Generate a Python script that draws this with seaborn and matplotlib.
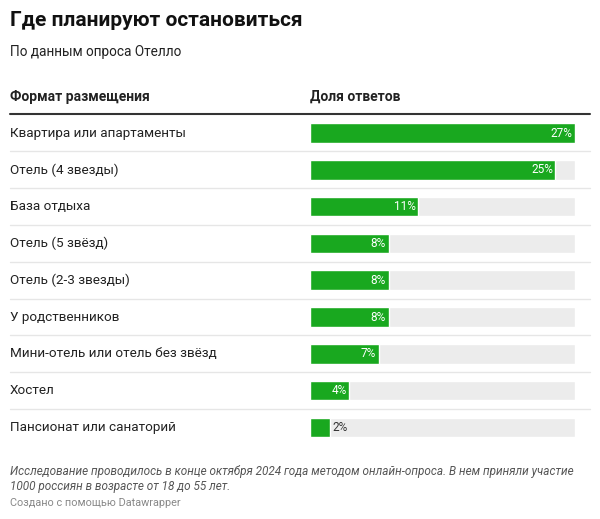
import matplotlib
matplotlib.use("Agg")
import matplotlib.pyplot as plt
import matplotlib.transforms as mtransforms
import seaborn as sns
import pandas as pd

categories = [
    "Квартира или апартаменты",
    "Отель (4 звезды)",
    "База отдыха",
    "Отель (5 звёзд)",
    "Отель (2-3 звезды)",
    "У родственников",
    "Мини-отель или отель без звёзд",
    "Хостел",
    "Пансионат или санаторий",
]
values = [27, 25, 11, 8, 8, 8, 7, 4, 2]
value_labels = ["27%", "25%", "11%", "8%", "8%", "8%", "7%", "4%", "2%"]

title = "Где планируют остановиться"
subtitle = "По данным опроса Отелло"
col1 = "Формат размещения"
col2 = "Доля ответов"
note = ("Исследование проводилось в конце октября 2024 года методом онлайн-опроса. В нем приняли участие\n"
        "1000 россиян в возрасте от 18 до 55 лет.")
credit = "Создано с помощью Datawrapper"

sns.set_theme(style="white")
plt.rcParams["font.family"] = ["Roboto", "DejaVu Sans"]

W, H = 600, 519
fig = plt.figure(figsize=(W / 100, H / 100), dpi=100)

def fx(px):
    return px / W

def fy(py):
    return 1 - py / H

# bar axes
top_px, bot_px = 114.6, 445.9
ax = fig.add_axes([fx(310), fy(bot_px), fx(265), (bot_px - top_px) / H])

vmax = max(values)
df = pd.DataFrame({"cat": categories, "val": values, "track": [vmax] * len(values)})

sns.barplot(data=df, y="cat", x="track", orient="h", color="#ececec",
            width=0.53, ax=ax, saturation=1)
sns.barplot(data=df, y="cat", x="val", orient="h", color="#19a81f",
            width=0.53, ax=ax, saturation=1)
ax.set_xlim(0, vmax)
ax.set_ylim(len(categories) - 0.5, -0.5)
ax.axis("off")

trans = mtransforms.blended_transform_factory(fig.transFigure, ax.transData)

for i, (c, v, lab) in enumerate(zip(categories, values, value_labels)):
    ax.text(fx(10), i, c, transform=trans, ha="left", va="center",
            fontsize=9.7, color="#222222")
    if v >= 4:
        ax.text(v - 0.25, i, lab, ha="right", va="center", fontsize=8.5,
                color="white")
    else:
        ax.text(v + 0.25, i, lab, ha="left", va="center", fontsize=8.5,
                color="#333333")
    if i < len(categories) - 1:
        ax.plot([fx(10), fx(590)], [i + 0.5, i + 0.5], transform=trans,
                color="#e6e6e6", lw=1, clip_on=False)

# header
fig.text(fx(10), fy(97), col1, fontsize=10, fontweight="bold", color="#222222",
         ha="left", va="center")
fig.text(fx(310), fy(97), col2, fontsize=10, fontweight="bold", color="#222222",
         ha="left", va="center")
fig.add_artist(plt.Line2D([fx(10), fx(590)], [fy(114), fy(114)],
                          color="#333333", lw=1.5, transform=fig.transFigure))

# title and subtitle
fig.text(fx(10), fy(21), title, fontsize=15, fontweight="bold", color="#111111",
         ha="left", va="center")
fig.text(fx(10), fy(52), subtitle, fontsize=9.8, color="#222222",
         ha="left", va="center")

# footer
fig.text(fx(10), fy(479), note, fontsize=8.5, style="italic", color="#555555",
         ha="left", va="center", linespacing=1.25)
fig.text(fx(10), fy(503), credit, fontsize=7.8, color="#888888",
         ha="left", va="center")

fig.savefig("out.png", dpi=100, facecolor="white")
